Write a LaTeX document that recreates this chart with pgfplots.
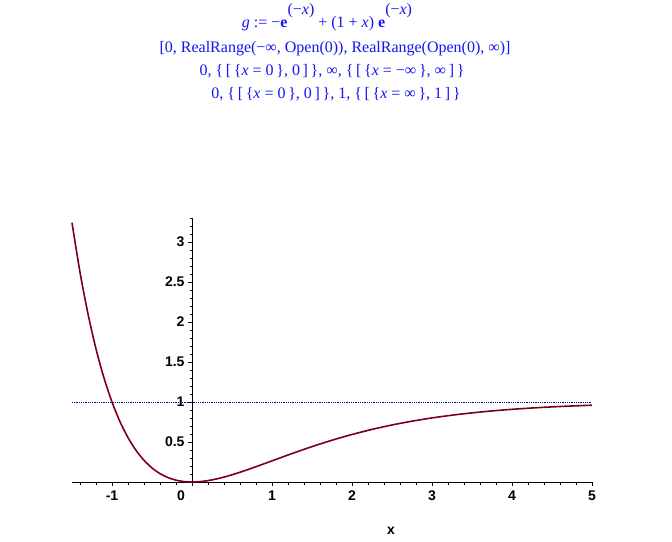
\documentclass[border=0pt]{standalone}
\usepackage{fontspec}
\setmainfont{Liberation Serif}
\setsansfont{Liberation Sans}
\usepackage{pgfplots}
\pgfplotsset{compat=1.18}
\definecolor{curvecol}{RGB}{122,0,24}
\definecolor{dotcol}{RGB}{0,0,128}
\definecolor{titleblue}{RGB}{20,20,245}
\begin{document}
\begin{tikzpicture}[x=1pt,y=1pt]
\useasboundingbox (0,0) rectangle (672,541);
\begin{axis}[
  at={(72pt,59pt)}, anchor=south west,
  scale only axis, width=520pt, height=264pt,
  xmin=-1.5, xmax=5, ymin=0, ymax=3.3,
  axis lines=middle,
  axis line style={-, black, line width=0.8pt},
  every tick/.style={black, line width=0.8pt},
  tick align=outside,
  major tick length=4pt, minor tick length=2.5pt,
  xtick={-1,1,2,3,4,5},
  extra x ticks={0},
  extra x tick style={xticklabel style={xshift=-11pt}},
  ytick={0.5,1,1.5,2,2.5,3},
  minor xtick={-1.4,-1.2,...,5},
  minor ytick={0.1,0.2,...,3.3},
  /pgf/number format/assume math mode=true,
  ticklabel style={font=\sffamily\bfseries\fontsize{14}{14}\selectfont},
  xticklabel style={yshift=-1pt},
  clip=false,
]
\addplot[dotcol, densely dotted, line width=0.8pt] coordinates {(-1.5,1) (5,1)};
\addplot[curvecol, line width=1.6pt, smooth] table {
x y
-1.5 3.2408
-1.4 2.6221
-1.3 2.1008
-1.2 1.6640
-1.1 1.3004
-1.0 1.0000
-0.9 0.7540
-0.8 0.5549
-0.7 0.3959
-0.6 0.2712
-0.5 0.1756
-0.4 0.1049
-0.3 0.0551
-0.2 0.0229
-0.1 0.0054
0.0 0.0000
0.1 0.0047
0.2 0.0175
0.3 0.0369
0.4 0.0616
0.5 0.0902
0.6 0.1219
0.7 0.1558
0.8 0.1912
0.9 0.2275
1.0 0.2642
1.2 0.3374
1.4 0.4082
1.6 0.4751
1.8 0.5372
2.0 0.5940
2.25 0.6575
2.5 0.7127
2.75 0.7603
3.0 0.8009
3.25 0.8352
3.5 0.8641
3.75 0.8883
4.0 0.9084
4.25 0.9251
4.5 0.9389
4.75 0.9503
5.0 0.9596
};
\end{axis}
\node[font=\sffamily\bfseries\fontsize{14}{14}\selectfont] at (391,10) {x};
\begin{scope}[every node/.style={titleblue, font=\fontsize{16}{16}\selectfont, anchor=base}]
\node at (327,513) {\textit{g} := −\textbf{e}\raisebox{13pt}{(−\textit{x})} + (1 + \textit{x}) \textbf{e}\raisebox{13pt}{(−\textit{x})}};
\node at (335,488) {[0, RealRange(−∞, Open(0)), RealRange(Open(0), ∞)]};
\node at (332,465) {0, \{\,[\,\{\textit{x} = 0\,\}, 0\,]\,\}, ∞, \{\,[\,\{\textit{x} = −∞\,\}, ∞\,]\,\}};
\node at (336,442) {0, \{\,[\,\{\textit{x} = 0\,\}, 0\,]\,\}, 1, \{\,[\,\{\textit{x} = ∞\,\}, 1\,]\,\}};
\end{scope}
\end{tikzpicture}
\end{document}
